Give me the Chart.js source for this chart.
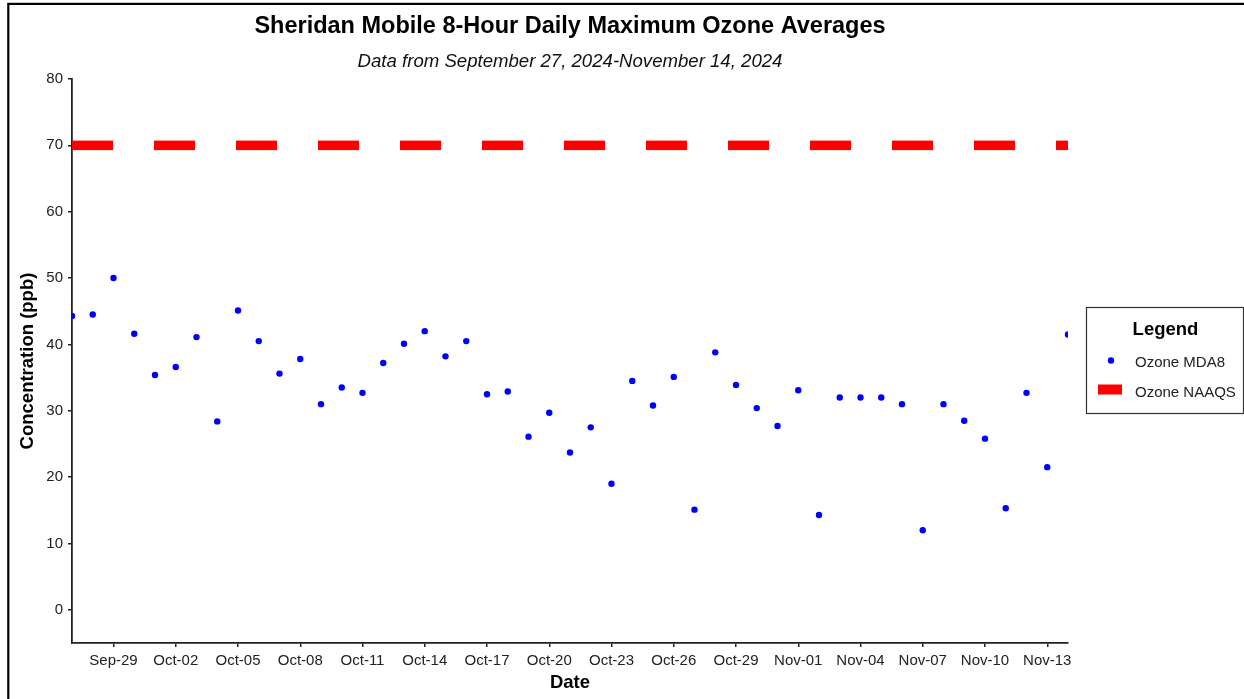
<!DOCTYPE html>
<html><head><meta charset="utf-8">
<script src="https://cdn.jsdelivr.net/npm/chart.js@4"></script>
<style>html,body{margin:0;padding:0;background:#fff;overflow:hidden}canvas{display:block}</style>
</head><body>
<canvas id="c" width="1244" height="699"></canvas>
<script>
const dates = ['Sep-27','Sep-28','Sep-29','Sep-30','Oct-01','Oct-02','Oct-03','Oct-04','Oct-05','Oct-06',
  'Oct-07','Oct-08','Oct-09','Oct-10','Oct-11','Oct-12','Oct-13','Oct-14','Oct-15','Oct-16',
  'Oct-17','Oct-18','Oct-19','Oct-20','Oct-21','Oct-22','Oct-23','Oct-24','Oct-25','Oct-26',
  'Oct-27','Oct-28','Oct-29','Oct-30','Oct-31','Nov-01','Nov-02','Nov-03','Nov-04','Nov-05',
  'Nov-06','Nov-07','Nov-08','Nov-09','Nov-10','Nov-11','Nov-12','Nov-13','Nov-14'];
const mda8 = [44.3,44.5,50.0,41.6,35.4,36.6,41.1,28.4,45.1,40.5,
  35.6,37.8,31.0,33.5,32.7,37.2,40.1,42.0,38.2,40.5,
  32.5,32.9,26.1,29.7,23.7,27.5,19.0,34.5,30.8,35.1,
  15.1,38.8,33.9,30.4,27.7,33.1,14.3,32.0,32.0,32.0,
  31.0,12.0,31.0,28.5,25.8,15.3,32.7,21.5,41.5];
const naaqsLevel = 70;
const xTickLabels = ['Sep-29','Oct-02','Oct-05','Oct-08','Oct-11','Oct-14','Oct-17','Oct-20','Oct-23',
  'Oct-26','Oct-29','Nov-01','Nov-04','Nov-07','Nov-10','Nov-13'];
const yTickValues = [0,10,20,30,40,50,60,70,80];
const chartTitle = 'Sheridan Mobile 8-Hour Daily Maximum Ozone Averages';
const chartSubtitle = 'Data from September 27, 2024-November 14, 2024';
const legendTitle = 'Legend';
const seriesNames = ['Ozone MDA8','Ozone NAAQS'];

const FONT = "'Liberation Sans', Arial, sans-serif";
Chart.defaults.font.family = FONT;
const AXIS = '#222';

const decor = {
  id: 'decor',
  afterDraw(chart) {
    const ctx = chart.ctx, a = chart.chartArea;
    ctx.save();
    // outer frame
    ctx.strokeStyle = '#000'; ctx.lineWidth = 2.2;
    ctx.strokeRect(8.3, 3.9, 1400, 900);
    // titles
    const cx = (a.left + a.right) / 2;
    ctx.fillStyle = '#000'; ctx.textAlign = 'center'; ctx.textBaseline = 'middle';
    ctx.font = "bold 23.5px " + FONT;
    ctx.fillText(chartTitle, cx, 26.5);
    ctx.fillStyle = '#111';
    ctx.font = "italic 18.6px " + FONT;
    ctx.fillText(chartSubtitle, cx, 61.5);
    // legend
    const ds = chart.data.datasets;
    const bx = a.right + 18.5, by = 307.5, bw = 157, bh = 106;
    ctx.fillStyle = '#fff'; ctx.fillRect(bx, by, bw, bh);
    ctx.strokeStyle = '#333'; ctx.lineWidth = 1.2; ctx.strokeRect(bx, by, bw, bh);
    ctx.fillStyle = '#000'; ctx.textAlign = 'center';
    ctx.font = "bold 18.5px " + FONT;
    ctx.fillText(legendTitle, bx + 79, by + 22);
    ctx.textAlign = 'left';
    ctx.font = "15px " + FONT;
    ctx.fillStyle = ds[0].backgroundColor;
    ctx.beginPath(); ctx.arc(bx + 24.5, by + 53, 3.2, 0, Math.PI * 2); ctx.fill();
    ctx.fillStyle = '#222';
    ctx.fillText(ds[0].label, bx + 48.5, by + 55.5);
    ctx.fillStyle = ds[1].borderColor;
    ctx.fillRect(bx + 11.5, by + 77, 24, 10);
    ctx.fillStyle = '#222';
    ctx.fillText(ds[1].label, bx + 48.5, by + 85);
    ctx.restore();
  }
};

new Chart(document.getElementById('c'), {
  data: {
    datasets: [
      {
        type: 'scatter',
        label: seriesNames[0],
        data: dates.map((d, i) => ({x: i, y: mda8[i]})),
        backgroundColor: '#0000FF',
        borderColor: '#0000FF',
        pointRadius: 3.2,
        pointBorderWidth: 0,
        clip: 0,
        order: 1
      },
      {
        type: 'line',
        label: seriesNames[1],
        data: [{x: 0, y: naaqsLevel}, {x: dates.length - 1, y: naaqsLevel}],
        borderColor: '#FF0000',
        backgroundColor: '#FF0000',
        borderWidth: 9.5,
        borderDash: [41, 41],
        borderCapStyle: 'butt',
        pointRadius: 0,
        fill: false,
        clip: 0,
        order: 2
      }
    ]
  },
  options: {
    responsive: false,
    animation: false,
    devicePixelRatio: 1,
    layout: {padding: {left: 0, right: 176, top: 79, bottom: 0}},
    plugins: {legend: {display: false}, title: {display: false}, tooltip: {enabled: false}},
    scales: {
      x: {
        type: 'linear',
        min: 0, max: dates.length - 1,
        afterBuildTicks: s => { s.ticks = xTickLabels.map(l => ({value: dates.indexOf(l)})); },
        afterFit: s => { s.height = 56; },
        ticks: {
          callback: v => dates[v] || '',
          color: '#222', font: {size: 15}, padding: 5,
          maxRotation: 0, autoSkip: false
        },
        grid: {drawOnChartArea: false, drawTicks: true, tickLength: 4, color: AXIS, lineWidth: 1.5},
        border: {display: true, color: AXIS, width: 1.8},
        title: {display: true, text: 'Date', color: '#000', font: {size: 18.5, weight: 'bold'}, padding: {top: 0, bottom: 5}}
      },
      y: {
        type: 'linear',
        min: -5, max: 80,
        afterBuildTicks: s => { s.ticks = yTickValues.map(v => ({value: v})); },
        afterFit: s => { s.width = 72; },
        ticks: {color: '#222', font: {size: 15}, padding: 5},
        grid: {drawOnChartArea: false, drawTicks: true, tickLength: 4, color: AXIS, lineWidth: 1.5},
        border: {display: true, color: AXIS, width: 1.8},
        title: {display: true, text: 'Concentration (ppb)', color: '#000', font: {size: 18.5, weight: 'bold'}, padding: {top: 17, bottom: 0}}
      }
    }
  },
  plugins: [decor]
});
</script>
</body></html>
